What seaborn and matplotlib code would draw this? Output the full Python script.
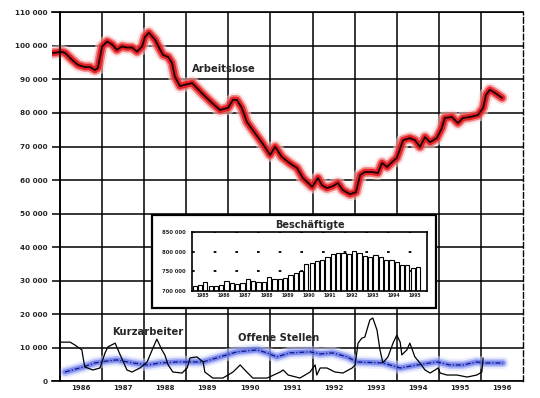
import matplotlib
matplotlib.use("Agg")
import matplotlib.pyplot as plt
from matplotlib.patches import Rectangle
from matplotlib.ticker import MultipleLocator, FuncFormatter
import pandas as pd
import seaborn as sns

# ── Daten (Werte in Tausend) ──────────────────────────────────────────────────
arb_t = [1985.83, 1986.05, 1986.12, 1986.29, 1986.43, 1986.59, 1986.71, 1986.83,
         1986.90, 1987.00, 1987.12, 1987.24, 1987.35, 1987.47, 1987.59, 1987.71,
         1987.83, 1987.95, 1988.02, 1988.11, 1988.26, 1988.38, 1988.45, 1988.57,
         1988.66, 1988.73, 1988.85, 1989.00, 1989.14, 1989.37, 1989.61, 1989.80,
         1989.99, 1990.11, 1990.20, 1990.32, 1990.44, 1990.63, 1990.80, 1990.99,
         1991.11, 1991.27, 1991.46, 1991.63, 1991.77, 1991.99, 1992.13, 1992.22,
         1992.34, 1992.48, 1992.60, 1992.72, 1992.89, 1993.03, 1993.13, 1993.24,
         1993.41, 1993.55, 1993.65, 1993.77, 1993.89, 1994.00, 1994.15, 1994.31,
         1994.43, 1994.55, 1994.67, 1994.79, 1994.95, 1995.07, 1995.14, 1995.31,
         1995.45, 1995.57, 1995.74, 1995.93, 1996.05, 1996.12, 1996.21, 1996.33,
         1996.50]
arb_v = [97.9, 98.2, 97.9, 95.8, 94.3, 93.7, 93.7, 92.8,
         93.4, 99.8, 101.3, 100.4, 98.8, 99.8, 99.5, 99.5,
         98.3, 99.8, 102.7, 103.9, 101.8, 98.8, 97.3, 96.7,
         94.9, 90.8, 88.0, 88.5, 88.9, 85.9, 83.0, 80.9,
         81.5, 83.9, 83.9, 81.5, 77.3, 74.0, 71.1, 67.5,
         69.9, 66.9, 65.0, 63.6, 60.6, 58.0, 60.6, 58.5,
         57.6, 58.2, 59.1, 57.0, 55.8, 56.4, 61.5, 62.4,
         62.4, 62.1, 65.1, 63.9, 65.4, 66.6, 71.9, 72.5,
         71.9, 69.9, 72.8, 71.3, 72.5, 75.5, 78.5, 78.8,
         77.0, 78.5, 78.8, 79.4, 81.5, 85.4, 86.9, 86.0,
         84.5]

kurz_t = [1986.00, 1986.24, 1986.36, 1986.52, 1986.55, 1986.59, 1986.78, 1986.95,
          1987.07, 1987.14, 1987.31, 1987.43, 1987.59, 1987.71, 1987.90, 1988.07,
          1988.19, 1988.30, 1988.42, 1988.49, 1988.57, 1988.68, 1988.90, 1989.02,
          1989.09, 1989.25, 1989.40, 1989.44, 1989.63, 1989.87, 1990.11, 1990.28,
          1990.39, 1990.58, 1990.92, 1991.23, 1991.30, 1991.42, 1991.70, 1991.94,
          1992.06, 1992.10, 1992.18, 1992.34, 1992.53, 1992.72, 1992.94, 1993.01,
          1993.08, 1993.17, 1993.24, 1993.36, 1993.43, 1993.53, 1993.60, 1993.67,
          1993.79, 1993.91, 1994.00, 1994.08, 1994.12, 1994.24, 1994.31, 1994.43,
          1994.55, 1994.67, 1994.79, 1994.91, 1994.98, 1995.03, 1995.19, 1995.43,
          1995.67, 1995.90, 1996.02, 1996.05]
kurz_v = [11.7, 11.7, 10.8, 9.4, 7.0, 4.3, 3.4, 4.0,
          8.5, 10.3, 11.4, 7.9, 3.4, 2.8, 4.0, 5.8,
          9.4, 12.6, 9.4, 7.9, 4.9, 2.8, 2.5, 4.0,
          7.0, 7.3, 5.8, 2.8, 1.0, 1.0, 2.8, 4.9,
          3.4, 1.0, 1.0, 2.8, 3.4, 1.9, 1.0, 2.8,
          4.9, 1.9, 4.0, 4.0, 2.8, 2.5, 4.0, 4.9,
          11.4, 12.9, 13.2, 18.3, 18.9, 15.3, 9.4, 5.5,
          7.3, 11.4, 13.8, 11.7, 7.9, 9.4, 11.4, 7.3,
          5.5, 3.4, 2.5, 3.4, 4.0, 2.5, 1.9, 1.9,
          1.3, 1.9, 2.8, 7.0]

off_t = [1986.12, 1986.55, 1986.83, 1987.12, 1987.35, 1987.73, 1988.07, 1988.38,
         1988.78, 1989.09, 1989.40, 1989.80, 1990.20, 1990.68, 1990.92, 1991.15,
         1991.46, 1991.94, 1992.18, 1992.48, 1992.82, 1993.05, 1993.67, 1994.08,
         1994.48, 1994.95, 1995.26, 1995.57, 1995.90, 1996.05, 1996.52]
off_v = [2.8, 4.3, 5.5, 6.1, 6.4, 5.5, 4.9, 5.5,
         5.8, 5.8, 5.8, 7.3, 8.8, 9.4, 8.5, 7.3,
         8.5, 8.8, 8.2, 8.5, 7.3, 5.8, 5.5, 4.0,
         4.9, 5.8, 4.9, 4.9, 5.8, 5.5, 5.5]

# Beschäftigte, quartalsweise ab 1985
bes_v = [712, 715, 722, 713,
         712, 715, 726, 720,
         719, 720, 731, 725,
         723, 724, 735, 730,
         731, 733, 742, 746,
         752, 768, 772, 776,
         778, 786, 795, 796,
         797, 795, 802, 797,
         789, 787, 792, 786,
         778, 780, 773, 767,
         766, 759, 762]
bes_t = [1985 + (i + 0.5) / 4 for i in range(len(bes_v))]

years_main = list(range(1986, 1997))
years_inset = list(range(1985, 1996))

RED_HALO = [(10, "#f9d0d0", 0.55), (7, "#ef5a5a", 0.7), (4.5, "#e3161c", 0.9)]
BLUE_HALO = [(9, "#d8defc", 0.5), (6, "#8593f2", 0.45), (3.5, "#4658e6", 0.55)]

sns.set_style("white")
plt.rcParams["font.family"] = ["DejaVu Sans"]
plt.rcParams["font.weight"] = "bold"


def k_fmt(v, pos):
    return "0" if v == 0 else f"{int(round(v))} 000"


def line(ax, df, **kw):
    sns.lineplot(data=df, x="t", y="v", ax=ax, sort=False, estimator=None,
                 legend=False, **kw)


fig = plt.figure(figsize=(5.4, 3.98), dpi=100)
ax = fig.add_axes([0.0955, 0.0417, 0.8732, 0.9274])

arb = pd.DataFrame({"t": arb_t, "v": arb_v})
off = pd.DataFrame({"t": off_t, "v": off_v})
kurz = pd.DataFrame({"t": kurz_t, "v": kurz_v})

for lw, col, a in BLUE_HALO:
    line(ax, off, color=col, lw=lw, alpha=a, solid_capstyle="round")
line(ax, off, color="#0c1680", lw=0.9, linestyle=(0, (4, 1.5, 1, 1.5)))

line(ax, kurz, color="black", lw=0.9)

for lw, col, a in RED_HALO:
    line(ax, arb, color=col, lw=lw, alpha=a, solid_capstyle="round")
line(ax, arb, color="#1a0000", lw=1.3)

ax.set_xlim(1985.8, 1997)
ax.set_ylim(0, 110)
ax.set(xlabel="", ylabel="")

ax.set_yticks(range(0, 111, 10))
ax.yaxis.set_minor_locator(MultipleLocator(2))
ax.yaxis.set_major_formatter(FuncFormatter(k_fmt))
ax.tick_params(axis="y", which="major", direction="out", length=5, width=1.1,
               pad=4, labelsize=5.2)
ax.tick_params(axis="y", which="minor", direction="out", length=2.2, width=0.9)

ax.set_xticks(years_main)
ax.set_xticks([y + 0.5 for y in years_main], minor=True)
ax.set_xticklabels([str(y) for y in years_main], minor=True)
ax.tick_params(axis="x", which="major", length=0, labelbottom=False)
ax.tick_params(axis="x", which="minor", length=0, pad=2.5, labelsize=5)

ax.grid(True, which="major", color="black", lw=1.1)
ax.spines["left"].set_position(("data", 1986))
for s in ["left", "top", "bottom"]:
    ax.spines[s].set_color("black")
    ax.spines[s].set_linewidth(1.2)
ax.spines["right"].set_color("black")
ax.spines["right"].set_linewidth(1.0)
ax.spines["right"].set_linestyle((0, (4, 2)))

ax.text(1989.14, 93.1, "Arbeitslose", fontsize=7.2, fontweight="bold",
        ha="left", va="center")
ax.text(1987.24, 14.7, "Kurzarbeiter", fontsize=7.2, fontweight="bold",
        ha="left", va="center")
ax.text(1990.23, 12.9, "Offene Stellen", fontsize=7.2, fontweight="bold",
        ha="left", va="center")

# ── Einsatz: Beschäftigte ────────────────────────────────────────────────────
frame = Rectangle((0.2815, 0.2261), 0.5259, 0.2337, transform=fig.transFigure,
                  facecolor="white", edgecolor="black", lw=1.6, zorder=5)
fig.add_artist(frame)

axi = fig.add_axes([0.3556, 0.2688, 0.4352, 0.1482], zorder=6)
sns.barplot(x=bes_t, y=bes_v, native_scale=True, width=0.8, color="white",
            edgecolor="black", linewidth=0.8, saturation=1, ax=axi)
axi.set_xlim(1985, 1996.05)
axi.set_ylim(700, 850)
axi.set(xlabel="", ylabel="")
axi.set_title("Beschäftigte", fontsize=7, fontweight="bold", pad=3)

axi.set_yticks([700, 750, 800, 850])
axi.yaxis.set_minor_locator(MultipleLocator(10))
axi.yaxis.set_major_formatter(FuncFormatter(k_fmt))
axi.tick_params(axis="y", which="major", direction="out", length=2.5, width=1,
                pad=2, labelsize=3.8)
axi.tick_params(axis="y", which="minor", direction="out", length=1.5, width=0.8)

axi.set_xticks(years_inset + [1996])
axi.set_xticks([y + 0.5 for y in years_inset], minor=True)
axi.set_xticklabels([str(y) for y in years_inset], minor=True)
axi.tick_params(axis="x", which="major", direction="out", length=2, width=1,
                labelbottom=False)
axi.tick_params(axis="x", which="minor", length=0, pad=1.5, labelsize=3.3)

axi.grid(True, axis="y", which="major", color="black", lw=1.3,
         linestyle=(0, (1.5, 10.5)))
axi.grid(False, axis="x")
for s in axi.spines.values():
    s.set_color("black")
    s.set_linewidth(1.2)

fig.savefig("out.png", dpi=100)
